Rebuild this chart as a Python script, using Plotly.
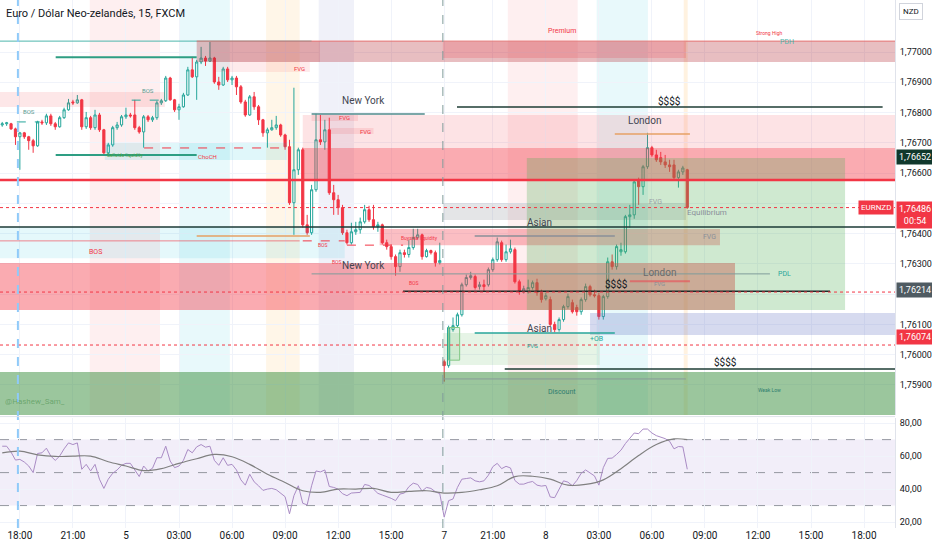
import plotly.graph_objects as go

# 15-minute bars, index 0 = 18:00 on day 4
bars = list(range(-4, 152))

opens = [1.76759, 1.76763, 1.76763, 1.76746, 1.76720, 1.76733, 1.76720, 1.76707, 1.76690, 1.76769,
         1.76766, 1.76789, 1.76763, 1.76753, 1.76783, 1.76809, 1.76835, 1.76832, 1.76842, 1.76753,
         1.76783, 1.76750, 1.76792, 1.76743, 1.76667, 1.76693, 1.76750, 1.76759, 1.76786, 1.76792,
         1.76792, 1.76750, 1.76736, 1.76786, 1.76776, 1.76783, 1.76832, 1.76839, 1.76914, 1.76842,
         1.76809, 1.76819, 1.76858, 1.76941, 1.76918, 1.76967, 1.76980, 1.76970, 1.76980, 1.76901,
         1.76891, 1.76944, 1.76908, 1.76914, 1.76885, 1.76835, 1.76792, 1.76852, 1.76819, 1.76776,
         1.76733, 1.76743, 1.76750, 1.76759, 1.76726, 1.76687, 1.76502, 1.76611, 1.76677, 1.76429,
         1.76403, 1.76545, 1.76710, 1.76703, 1.76743, 1.76535, 1.76512, 1.76486, 1.76403, 1.76370,
         1.76406, 1.76413, 1.76439, 1.76479, 1.76446, 1.76423, 1.76429, 1.76370, 1.76357, 1.76324,
         1.76291, 1.76337, 1.76331, 1.76354, 1.76387, 1.76396, 1.76324, 1.76344, 1.76337, 1.76304,
         1.75977, 1.75964, 1.76083, 1.76096, 1.76132, 1.76231, 1.76255, 1.76258, 1.76225, 1.76231,
         1.76231, 1.76281, 1.76314, 1.76370, 1.76314, 1.76340, 1.76347, 1.76241, 1.76208, 1.76208,
         1.76222, 1.76238, 1.76205, 1.76185, 1.76182, 1.76100, 1.76083, 1.76116, 1.76159, 1.76172,
         1.76156, 1.76142, 1.76182, 1.76225, 1.76198, 1.76195, 1.76126, 1.76192, 1.76307, 1.76291,
         1.76340, 1.76340, 1.76456, 1.76462, 1.76578, 1.76555, 1.76621, 1.76684, 1.76660, 1.76651,
         1.76637, 1.76627, 1.76627, 1.76585, 1.76604, 1.76611]
highs = [1.76769, 1.76769, 1.76766, 1.76750, 1.76736, 1.76736, 1.76723, 1.76713, 1.76773, 1.76776,
         1.76796, 1.76796, 1.76769, 1.76789, 1.76816, 1.76845, 1.76842, 1.76858, 1.76845, 1.76802,
         1.76789, 1.76809, 1.76799, 1.76746, 1.76700, 1.76756, 1.76769, 1.76792, 1.76816, 1.76799,
         1.76842, 1.76756, 1.76792, 1.76792, 1.76789, 1.76839, 1.76845, 1.76921, 1.76918, 1.76845,
         1.76829, 1.76865, 1.76951, 1.76984, 1.76974, 1.77017, 1.76987, 1.77033, 1.76984, 1.76918,
         1.76951, 1.76951, 1.76921, 1.76921, 1.76891, 1.76842, 1.76858, 1.76868, 1.76825, 1.76779,
         1.76750, 1.76776, 1.76789, 1.76763, 1.76730, 1.76710, 1.76882, 1.76684, 1.76684, 1.76462,
         1.76561, 1.76796, 1.76792, 1.76776, 1.76783, 1.76561, 1.76528, 1.76495, 1.76413, 1.76436,
         1.76439, 1.76453, 1.76495, 1.76492, 1.76495, 1.76439, 1.76433, 1.76380, 1.76364, 1.76331,
         1.76347, 1.76347, 1.76380, 1.76416, 1.76416, 1.76400, 1.76350, 1.76347, 1.76344, 1.76370,
         1.75984, 1.76096, 1.76123, 1.76139, 1.76238, 1.76265, 1.76274, 1.76265, 1.76241, 1.76248,
         1.76288, 1.76321, 1.76387, 1.76377, 1.76364, 1.76380, 1.76354, 1.76248, 1.76228, 1.76248,
         1.76245, 1.76251, 1.76215, 1.76205, 1.76192, 1.76109, 1.76123, 1.76165, 1.76202, 1.76182,
         1.76165, 1.76189, 1.76235, 1.76231, 1.76215, 1.76205, 1.76198, 1.76321, 1.76331, 1.76364,
         1.76370, 1.76462, 1.76495, 1.76578, 1.76585, 1.76627, 1.76733, 1.76690, 1.76677, 1.76670,
         1.76660, 1.76644, 1.76644, 1.76611, 1.76624, 1.76614]
lows = [1.76753, 1.76756, 1.76743, 1.76693, 1.76611, 1.76713, 1.76677, 1.76667, 1.76687, 1.76759,
        1.76759, 1.76756, 1.76743, 1.76750, 1.76779, 1.76806, 1.76825, 1.76829, 1.76743, 1.76746,
        1.76743, 1.76743, 1.76736, 1.76660, 1.76660, 1.76687, 1.76743, 1.76753, 1.76779, 1.76783,
        1.76743, 1.76730, 1.76684, 1.76769, 1.76769, 1.76776, 1.76825, 1.76835, 1.76839, 1.76802,
        1.76776, 1.76816, 1.76855, 1.76914, 1.76842, 1.76960, 1.76954, 1.76967, 1.76895, 1.76875,
        1.76888, 1.76901, 1.76891, 1.76858, 1.76829, 1.76786, 1.76789, 1.76809, 1.76759, 1.76720,
        1.76684, 1.76740, 1.76743, 1.76720, 1.76677, 1.76495, 1.76396, 1.76594, 1.76420, 1.76396,
        1.76396, 1.76538, 1.76693, 1.76677, 1.76528, 1.76462, 1.76462, 1.76396, 1.76364, 1.76364,
        1.76396, 1.76400, 1.76433, 1.76439, 1.76413, 1.76406, 1.76364, 1.76347, 1.76314, 1.76261,
        1.76274, 1.76321, 1.76321, 1.76347, 1.76380, 1.76314, 1.76321, 1.76331, 1.76291, 1.76298,
        1.75911, 1.75957, 1.76076, 1.76090, 1.76126, 1.76225, 1.76248, 1.76215, 1.76215, 1.76208,
        1.76225, 1.76274, 1.76307, 1.76307, 1.76307, 1.76334, 1.76235, 1.76198, 1.76202, 1.76202,
        1.76215, 1.76195, 1.76172, 1.76179, 1.76093, 1.76074, 1.76076, 1.76109, 1.76152, 1.76136,
        1.76129, 1.76132, 1.76175, 1.76192, 1.76189, 1.76116, 1.76116, 1.76185, 1.76281, 1.76281,
        1.76327, 1.76334, 1.76420, 1.76449, 1.76495, 1.76528, 1.76614, 1.76654, 1.76637, 1.76627,
        1.76617, 1.76604, 1.76578, 1.76552, 1.76594, 1.76482]
closes = [1.76763, 1.76766, 1.76746, 1.76720, 1.76733, 1.76720, 1.76707, 1.76690, 1.76769, 1.76766,
          1.76789, 1.76763, 1.76753, 1.76783, 1.76809, 1.76832, 1.76832, 1.76842, 1.76753, 1.76783,
          1.76750, 1.76792, 1.76743, 1.76667, 1.76693, 1.76750, 1.76759, 1.76786, 1.76792, 1.76789,
          1.76750, 1.76736, 1.76786, 1.76776, 1.76783, 1.76832, 1.76839, 1.76914, 1.76842, 1.76809,
          1.76819, 1.76858, 1.76941, 1.76918, 1.76967, 1.76980, 1.76970, 1.76980, 1.76901, 1.76891,
          1.76944, 1.76908, 1.76914, 1.76885, 1.76835, 1.76792, 1.76852, 1.76819, 1.76776, 1.76733,
          1.76743, 1.76750, 1.76759, 1.76726, 1.76687, 1.76502, 1.76611, 1.76677, 1.76429, 1.76403,
          1.76545, 1.76710, 1.76703, 1.76743, 1.76535, 1.76512, 1.76486, 1.76403, 1.76370, 1.76406,
          1.76413, 1.76439, 1.76479, 1.76446, 1.76423, 1.76429, 1.76370, 1.76357, 1.76324, 1.76291,
          1.76337, 1.76331, 1.76354, 1.76387, 1.76396, 1.76324, 1.76344, 1.76337, 1.76304, 1.76311,
          1.75964, 1.76090, 1.76096, 1.76132, 1.76231, 1.76255, 1.76261, 1.76222, 1.76231, 1.76225,
          1.76281, 1.76314, 1.76373, 1.76314, 1.76340, 1.76350, 1.76241, 1.76208, 1.76218, 1.76222,
          1.76238, 1.76205, 1.76182, 1.76195, 1.76100, 1.76083, 1.76116, 1.76159, 1.76192, 1.76142,
          1.76142, 1.76182, 1.76225, 1.76198, 1.76195, 1.76126, 1.76192, 1.76307, 1.76291, 1.76357,
          1.76347, 1.76456, 1.76462, 1.76571, 1.76555, 1.76621, 1.76684, 1.76660, 1.76644, 1.76637,
          1.76627, 1.76621, 1.76585, 1.76604, 1.76617, 1.76486]

rsi = [66, 66, 62.4, 57.6, 58, 56.4, 54, 50, 61.6, 62,
       64.8, 60, 57.4, 60, 64.4, 68, 67, 68, 52, 55,
       51, 55, 46, 40.4, 46, 49.6, 51.6, 54.4, 55.6, 55.6,
       51.6, 47.6, 54, 51, 52.6, 59, 59, 66, 57, 53,
       54, 57.4, 64, 62, 65.6, 67, 65.4, 66, 57.4, 54.4,
       59, 54.4, 55, 51.6, 45.6, 42.4, 49, 44.4, 42, 39.2,
       40, 40.4, 39.6, 37.4, 35.4, 25, 36, 42, 31.4, 30.4,
       42, 51, 50.4, 51.6, 41.6, 41, 40, 37.2, 36, 37.6,
       38, 38, 42.8, 42.2, 40, 37.4, 36.4, 35.6, 34.4, 33,
       37, 37.6, 41.4, 43.6, 42.8, 38.8, 41, 40.4, 38.4, 37.2,
       23, 33, 34, 41, 46, 46.4, 46.8, 45, 44.4, 45,
       48.4, 53.6, 55.6, 52.4, 53.8, 52.8, 45.2, 43, 43, 44,
       44.6, 42.4, 41.8, 42.2, 35.2, 34.8, 40.4, 45, 44.2, 42,
       45.2, 49.6, 51.6, 50, 48, 42.4, 53, 58.6, 58.8, 61,
       63.6, 67.6, 71, 74, 73.6, 76.4, 76.4, 74, 72.4, 71.4,
       70.6, 69, 64.4, 65.8, 65.6, 52]

rsi_ma_bars = [-4, 0, 4, 8, 12, 16, 20, 24, 28, 32, 36, 40, 44, 48, 52, 56, 60, 64, 68, 72,
               76, 80, 84, 88, 92, 96, 100, 104, 108, 112, 116, 120, 124, 128, 132, 136, 140,
               144, 148, 151]
rsi_ma = [62, 63, 60.8, 59.8, 60, 60, 56.6, 54, 51.2, 52.4, 55.6, 58.4, 61, 59.6, 55, 49, 44,
          39, 38, 40, 40, 40.4, 38, 38.6, 39, 37.6, 38, 39.6, 42, 47.6, 47.8, 46, 42.4, 42.8,
          45.6, 52.4, 60.4, 67, 70.4, 70]

tick_bars = [0, 12, 24, 36, 48, 60, 72, 84, 96, 107, 119, 131, 143, 155, 167, 179, 191]
tick_text = ["18:00", "21:00", "5", "03:00", "06:00", "09:00", "12:00", "15:00", "7",
             "21:00", "8", "03:00", "06:00", "09:00", "12:00", "15:00", "18:00"]
# 1,76200 and 1,76500 sit under price badges in the original, so they are left blank
price_ticks = [1.759, 1.760, 1.761, 1.762, 1.763, 1.764, 1.765, 1.766, 1.767, 1.768, 1.769, 1.770]
price_text = ["1,75900", "1,76000", "1,76100", "", "1,76300", "1,76400", "",
              "1,76600", "1,76700", "1,76800", "1,76900", "1,77000"]
rsi_ticks = [20, 40, 60, 80]
rsi_text = ["20,00", "40,00", "60,00", "80,00"]

XL, XR = -4.5, 198
FONT = "Roboto"

shapes = []
annotations = []


def session(x0, x1, color):
    shapes.append(dict(type="rect", xref="x", yref="y domain", x0=x0, x1=x1, y0=0, y1=1,
                       fillcolor=color, line=dict(width=0), layer="below"))


def zone(x0, x1, y0, y1, color, border=None):
    shapes.append(dict(type="rect", xref="x", yref="y", x0=x0, x1=x1, y0=y0, y1=y1,
                       fillcolor=color, line=border or dict(width=0), layer="above"))


def hline(x0, x1, y, color, width=1, dash="solid"):
    shapes.append(dict(type="line", xref="x", yref="y", x0=x0, x1=x1, y0=y, y1=y,
                       line=dict(color=color, width=width, dash=dash), layer="above"))


def label(x, y, text, color="#434651", size=10):
    annotations.append(dict(x=x, y=y, xref="x", yref="y", text=text, showarrow=False,
                            font=dict(family=FONT, size=size, color=color)))


# session backgrounds
session(15.8, 31.7, "rgba(242,54,69,0.08)")
session(36, 47.5, "rgba(0,188,212,0.09)")
session(55.7, 63.3, "rgba(255,152,0,0.09)")
session(67.6, 75.6, "rgba(63,81,181,0.08)")
session(110.4, 126.2, "rgba(242,54,69,0.08)")
session(130.5, 142.1, "rgba(0,188,212,0.09)")
session(150.2, 151.1, "rgba(255,152,0,0.12)")

# zones
zone(XL, 161.8, 1.76148, 1.76303, "rgba(242,54,69,0.42)")
zone(64, XR, 1.76577, 1.76683, "rgba(242,54,69,0.42)")
zone(64, XR, 1.76683, 1.76792, "rgba(242,54,69,0.14)")
zone(40, XR, 1.76967, 1.77036, "rgba(178,40,51,0.3)")
zone(95.7, 150.7, 1.76980, 1.77033, "rgba(242,54,69,0.2)")
zone(43, 67.9, 1.76967, 1.77036, "rgba(178,40,51,0.15)")
zone(XL, 32.8, 1.76818, 1.76868, "rgba(242,54,69,0.12)")
zone(44.1, 65.6, 1.76934, 1.76967, "rgba(242,54,69,0.1)")
zone(19.2, 60.4, 1.76643, 1.76699, "rgba(0,188,212,0.12)")
zone(XL, 73.5, 1.76319, 1.76422, "rgba(0,188,212,0.1)")
zone(66, 76.5, 1.76772, 1.76792, "rgba(242,54,69,0.12)")
zone(70, 80, 1.76729, 1.76749, "rgba(242,54,69,0.12)")
zone(81.4, 158.4, 1.76362, 1.76415, "rgba(242,54,69,0.32)")
zone(95.7, 150.7, 1.76445, 1.76501, "rgba(120,123,134,0.2)")
zone(114.7, 186.7, 1.76148, 1.76650, "rgba(76,175,80,0.27)")
zone(129, XR, 1.76065, 1.76138, "rgba(92,107,192,0.25)")
zone(95.7, 131.2, 1.75966, 1.76072, "rgba(76,175,80,0.14)")
zone(97, 99.5, 1.75982, 1.76090, "rgba(76,175,80,0.15)", dict(color="#81c784", width=1))
zone(XL, XR, 1.75801, 1.75943, "rgba(56,142,60,0.5)")

# lines
hline(XL, 66, 1.77036, "#4db6ac", 1)
hline(40, XR, 1.77036, "#e57373", 1)
hline(8.1, 40, 1.76983, "#2e9e83", 2)
hline(8.1, 40, 1.76660, "#2e9e83", 2)
hline(XL, XR, 1.76577, "#f23645", 2.5)
hline(XL, XR, 1.76422, "#1b3a36", 1.5)
hline(XL, 63.3, 1.76376, "rgba(242,54,69,0.6)", 1)
hline(40, 65.6, 1.76392, "#e6a064", 1.5)
hline(66, 91.6, 1.76795, "#4f8a8b", 1.5)
hline(98.9, 195.2, 1.76818, "#1e3c35", 1.5)
hline(134.6, 151.6, 1.76729, "#e6a064", 1.5)
hline(66, 169.7, 1.76267, "#7f9c9a", 1)
hline(86.7, 183.3, 1.76210, "#1b2a28", 1.5)
hline(102.9, 134.6, 1.76392, "#8a8f99", 1.5)
hline(109.7, XR, 1.75953, "#1e3c35", 1.5)
hline(95.7, 150.7, 1.75920, "#8a9a99", 1)
hline(102.9, 134.6, 1.76072, "#26a69a", 1.5)
hline(138, 151.6, 1.76243, "rgba(242,54,69,0.5)", 2)
hline(XL, XR, 1.76486, "#f23645", 1, "dot")
hline(XL, XR, 1.76207, "#f23645", 1, "dot")
hline(XL, XR, 1.76032, "#f23645", 1, "dot")
hline(28.1, 60.4, 1.76683, "#f23645", 1, "dash")
hline(-0.7, 4.5, 1.76769, "#26a69a", 1, "dash")
hline(25.3, 31.7, 1.76841, "#26a69a", 1, "dash")
hline(64, 73.5, 1.76376, "#f23645", 1, "dash")
hline(74, 86.7, 1.76362, "#f23645", 1, "dash")

# vertical markers through both panes
shapes.append(dict(type="line", xref="x", yref="paper", x0=-0.45, x1=-0.45, y0=0, y1=1,
                   line=dict(color="#90caf9", width=2, dash="dash"), layer="above"))
shapes.append(dict(type="line", xref="x", yref="paper", x0=95.7, x1=95.7, y0=0, y1=1,
                   line=dict(color="#7f9c9a", width=1, dash="dash"), layer="above"))

# RSI pane
shapes.append(dict(type="rect", xref="x2 domain", yref="y2", x0=0, x1=1, y0=30, y1=70,
                   fillcolor="rgba(126,87,194,0.1)", line=dict(width=0), layer="below"))
for lvl in (30, 50, 70):
    shapes.append(dict(type="line", xref="x2 domain", yref="y2", x0=0, x1=1, y0=lvl, y1=lvl,
                       line=dict(color="#9598a1", width=1, dash="dash"), layer="below"))
shapes.append(dict(type="line", xref="paper", yref="paper", x0=0, x1=1, y0=0.211, y1=0.211,
                   line=dict(color="#e0e3eb", width=1)))

# chart texts
label(77.8, 1.76841, "New York")
label(77.8, 1.76296, "New York")
label(141.4, 1.76775, "London")
label(144.8, 1.76270, "London", "#6b6b6b")
label(117.6, 1.76438, "Asian")
label(117.6, 1.76088, "Asian")
label(147, 1.76838, "$$$$", "#131722")
label(135, 1.76234, "$$$$", "#131722")
label(159.7, 1.75976, "$$$$", "#131722")
label(155.4, 1.76471, "Equilibrium", "#8a8f99", 8)
label(143.7, 1.76504, "FVG", "#9aa0a6", 7)
label(156.1, 1.76389, "FVG", "#8a8f99", 7)
label(144.8, 1.76234, "FVG", "#8a8f99", 6)
label(63.3, 1.76947, "FVG", "#f23645", 6)
label(73.5, 1.76785, "FVG", "#f23645", 6)
label(78.3, 1.76739, "FVG", "#f23645", 6)
label(116, 1.76032, "FVG", "#26a69a", 6)
label(122.6, 1.77069, "Premium", "#f23645", 7)
label(169.7, 1.77063, "Strong High", "#f23645", 5)
label(173.5, 1.77033, "PDH", "#4db6ac", 7)
label(173.1, 1.76267, "PDL", "#26a69a", 7)
label(122.6, 1.75877, "Discount", "#2e7d6e", 7)
label(169.7, 1.75883, "Weak Low", "#2e7d6e", 5)
label(130.5, 1.76052, "+OB", "#26a69a", 7)
label(2, 1.76802, "BOS", "#5b9c91", 6)
label(29, 1.76874, "BOS", "#5b9c91", 6)
label(17, 1.76339, "BOS", "#f23645", 7)
label(68.6, 1.76362, "BOS", "#f23645", 5)
label(71.7, 1.76306, "BOS", "#f23645", 5)
label(89.1, 1.76237, "BOS", "#f23645", 5)
label(42.5, 1.76656, "ChoCH", "#f23645", 6)
label(90.5, 1.76386, "Buyside liquidity", "#f23645", 5)
label(23.8, 1.76660, "Sellside liquidity", "#43a047", 5)
label(3.5, 1.75844, "@Hashew_Sam_", "rgba(46,125,50,0.45)", 8)

# title and axis badges
annotations.append(dict(xref="paper", yref="paper", x=0.005, y=1, xanchor="left", yanchor="top",
                        yshift=-5, text="Euro / Dólar Neo-zelandês, 15, FXCM", showarrow=False,
                        font=dict(family=FONT, size=11, color="#131722")))
annotations.append(dict(xref="paper", yref="paper", x=1.018, y=0.995, xanchor="center",
                        yanchor="top", text="NZD", showarrow=False, bgcolor="white",
                        bordercolor="#d1d4dc", borderwidth=1, borderpad=3,
                        font=dict(family=FONT, size=8, color="#131722")))


def badge(y, text, bg, x=1.0, anchor="left", size=9):
    annotations.append(dict(xref="paper", yref="y", x=x, y=y, xanchor=anchor, text=text,
                            showarrow=False, bgcolor=bg, borderpad=2,
                            xshift=1 if anchor == "left" else -1,
                            font=dict(family=FONT, size=size, color="white")))


badge(1.76652, "1,76652", "#10382c")
badge(1.76462, "1,76486<br>00:54", "#f23645")
badge(1.76486, "EURNZD", "#f23645", anchor="right", size=8)
badge(1.76214, "1,76214", "#4f5b62")
badge(1.76060, "1,76074", "#f23645")

fig = go.Figure()
fig.add_trace(go.Candlestick(
    x=bars, open=opens, high=highs, low=lows, close=closes,
    increasing=dict(line=dict(color="#26a69a", width=1), fillcolor="rgba(255,255,255,0.55)"),
    decreasing=dict(line=dict(color="#f23645", width=1), fillcolor="#f23645"),
    whiskerwidth=0, showlegend=False, xaxis="x", yaxis="y"))
fig.add_trace(go.Scatter(x=bars, y=rsi, mode="lines", line=dict(color="#a98bc4", width=1),
                         showlegend=False, xaxis="x2", yaxis="y2"))
fig.add_trace(go.Scatter(x=rsi_ma_bars, y=rsi_ma, mode="lines",
                         line=dict(color="#808080", width=1.2, shape="spline"),
                         showlegend=False, xaxis="x2", yaxis="y2"))

grid = "#f0f3fa"
fig.update_layout(
    width=932, height=550,
    margin=dict(l=0, r=37, t=0, b=22),
    paper_bgcolor="white", plot_bgcolor="white",
    font=dict(family=FONT, size=11, color="#131722"),
    shapes=shapes, annotations=annotations,
    xaxis=dict(domain=[0, 1], range=[XL, XR], anchor="y", tickvals=tick_bars,
               showticklabels=False, gridcolor=grid, zeroline=False, rangeslider=dict(visible=False)),
    yaxis=dict(domain=[0.214, 1], range=[1.758008, 1.771718], side="right", tickvals=price_ticks,
               ticktext=price_text, gridcolor=grid, zeroline=False, showline=True,
               linecolor="#e0e3eb", ticks="", tickfont=dict(size=9), ticklabelstandoff=2),
    xaxis2=dict(domain=[0, 1], range=[XL, XR], anchor="y2", matches="x", tickvals=tick_bars,
                ticktext=tick_text, gridcolor=grid, zeroline=False, ticks="",
                tickfont=dict(size=10)),
    yaxis2=dict(domain=[0, 0.208], range=[16.4, 83], side="right", tickvals=rsi_ticks,
                ticktext=rsi_text, gridcolor=grid, zeroline=False, showline=True,
                linecolor="#e0e3eb", ticks="", tickfont=dict(size=9), ticklabelstandoff=2),
)

# the page would otherwise add the browser's default 8px body margin
fig.write_html("out.html", config={"displayModeBar": False},
               post_script="document.body.style.margin='0';")
